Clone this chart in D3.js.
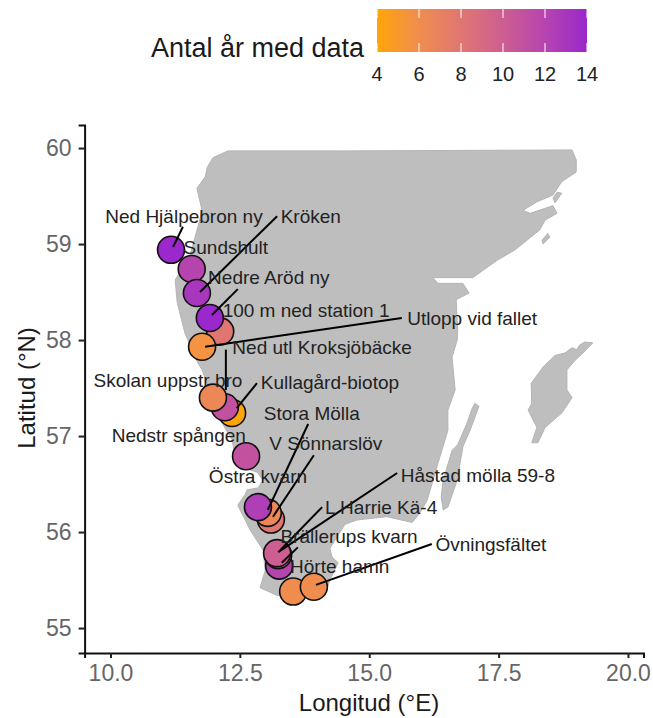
<!DOCTYPE html>
<html>
<head>
<meta charset="utf-8">
<script src="https://cdn.jsdelivr.net/npm/d3@7"></script>
<style>
body { margin: 0; background: #fff; }
svg { display: block; font-family: "Liberation Sans", Arial, sans-serif; }
</style>
</head>
<body>
<div class="svgContainer"></div>
<script>
// Statics, bottom to top paint order
var SITES = ["Ned Hjälpebron ny", "Sundshult", "Kröken", "100 m ned station 1", "Nedre Aröd ny", "Utlopp vid fallet", "Kullagård-biotop", "Ned utl Kroksjöbäcke", "Skolan uppstr bro", "Nedstr spången", "V Sönnarslöv", "Stora Mölla", "Östra kvarn", "Brällerups kvarn", "L Harrie Kä-4", "Håstad mölla 59-8", "Hörte hamn", "Övningsfältet"];
var LON = [11.17, 11.57, 11.67, 12.12, 11.92, 11.77, 12.35, 12.21, 11.98, 12.62, 13.10, 13.04, 12.85, 13.26, 13.24, 13.22, 13.53, 13.93];
var LAT = [58.94, 58.74, 58.49, 58.09, 58.23, 57.93, 57.24, 57.30, 57.40, 56.79, 56.13, 56.20, 56.26, 55.65, 55.76, 55.78, 55.38, 55.43];
var YEARS = [14, 12, 13, 8, 14, 5.5, 4, 11, 6.5, 11, 8, 6.5, 12.5, 12, 10, 10, 6, 6];

var LABEL_LON = [11.42, 12.23, 13.87, 13.78, 13.06, 16.99, 14.24, 14.09, 11.11, 11.32, 14.16, 13.89, 12.85, 14.61, 15.23, 17.10, 14.43, 17.35];
var LABEL_LAT = [59.29, 58.97, 59.29, 58.31, 58.65, 58.23, 57.56, 57.92, 57.58, 57.01, 56.92, 57.24, 56.58, 55.95, 56.26, 56.59, 55.64, 55.875];

// Repel lines, null where a label has none
var LINE_LON0 = [11.40, null, 13.22, null, 12.46, 15.63, 12.83, 12.23, null, null, 13.93, 13.82, null, 13.62, 14.09, 15.54, null, 16.21];
var LINE_LAT0 = [59.18, null, 59.29, null, 58.53, 58.23, 57.55, 57.90, null, null, 56.80, 57.125, null, 55.84, 56.26, 56.615, null, 55.875];
var LINE_LON1 = [11.21, null, 11.73, null, 11.96, 11.83, 12.44, 12.23, null, null, 13.14, 13.04, null, 13.31, 13.28, 13.24, null, 13.97];
var LINE_LAT1 = [58.97, null, 58.50, null, 58.26, 57.93, 57.29, 57.48, null, null, 56.16, 56.23, null, 55.68, 55.81, 55.79, null, 55.45];

var MAINLAND = [[12.27,59.97],[14.43,59.97],[18.92,59.98],[19.00,59.875],[19.00,59.75],[18.72,59.65],[18.55,59.51],[18.24,59.44],[17.97,59.35],[18.11,59.32],[18.55,59.40],[18.63,59.32],[18.40,59.25],[18.30,59.15],[17.82,58.94],[17.47,58.83],[17.00,58.65],[16.56,58.65],[16.23,58.65],[16.33,58.59],[16.81,58.59],[16.93,58.49],[16.68,58.42],[16.71,58.10],[16.70,58.00],[16.60,57.82],[16.66,57.48],[16.52,57.27],[16.52,57.06],[16.33,56.72],[16.12,56.33],[15.98,56.20],[15.83,56.10],[15.34,56.16],[14.76,56.125],[14.53,56.08],[14.24,55.83],[14.28,55.74],[14.40,55.68],[14.24,55.50],[14.18,55.40],[13.80,55.32],[13.22,55.34],[12.89,55.42],[12.99,55.60],[12.95,55.81],[12.70,56.02],[12.46,56.28],[12.60,56.39],[12.64,56.44],[12.85,56.46],[12.95,56.54],[12.83,56.625],[12.44,56.69],[12.35,56.96],[12.12,57.17],[11.77,57.69],[11.69,57.76],[11.44,58.07],[11.29,58.39],[11.25,58.625],[11.54,58.89],[11.69,59.18],[11.77,59.35],[11.67,59.58],[11.83,59.70],[11.87,59.80],[11.98,59.90]];
var SANDHAMN = [[18.63,59.54],[18.72,59.53],[18.59,59.43],[18.55,59.48]];
var UTO = [[18.45,59.11],[18.49,59.07],[18.36,59.00],[18.34,59.04]];
var OLAND = [[17.04,57.34],[17.12,57.31],[16.95,57.06],[16.81,56.89],[16.70,56.54],[16.52,56.26],[16.43,56.23],[16.39,56.365],[16.43,56.54],[16.60,56.85],[16.71,56.91],[16.89,57.135],[16.99,57.29]];
var GOTLAND = [[19.32,57.97],[19.17,57.98],[19.07,57.95],[19.01,57.90],[18.92,57.92],[18.78,57.865],[18.59,57.84],[18.36,57.72],[18.13,57.55],[18.14,57.34],[18.07,57.27],[18.24,57.09],[18.14,56.93],[18.26,56.93],[18.40,57.09],[18.72,57.24],[18.92,57.40],[18.82,57.48],[18.82,57.69],[18.98,57.79],[19.13,57.865]];

var LON_TICKS = [10, 12.5, 15, 17.5, 20];
var LAT_TICKS = [55, 56, 57, 58, 59, 60];
var LEGEND_TICKS = [4, 6, 8, 10, 12, 14];
// End statics

var width = 653, height = 718;

var svg = d3.select(".svgContainer").append("svg")
    .attr("width", width)
    .attr("height", height);

// Define the scales
var x = d3.scaleLinear().domain([9.5, 20.3]).range([84.6, 643.5]);
var y = d3.scaleLinear().domain([54.74, 60.24]).range([653, 125]);
var color = d3.scaleLinear().domain([4, 14]).range(["#FFA50A", "#9A28CC"]).interpolate(d3.interpolateLab);

// Land
var line = d3.line().x(function(d) { return x(d[0]); }).y(function(d) { return y(d[1]); });
svg.append("g").selectAll("path")
    .data([MAINLAND, SANDHAMN, UTO, OLAND, GOTLAND])
    .enter().append("path")
    .attr("d", function(d) { return line(d) + "Z"; })
    .attr("fill", "#BEBEBE")
    .attr("stroke", "#B4B4B4")
    .attr("stroke-width", 1)
    .attr("stroke-linejoin", "round");

// Axes
var xAxis = svg.append("g")
    .attr("transform", "translate(0," + y.range()[0] + ")")
    .call(d3.axisBottom(x).tickValues(LON_TICKS).tickFormat(d3.format(".1f")).tickSize(5).tickPadding(7));
var yAxis = svg.append("g")
    .attr("transform", "translate(" + x.range()[0] + ",0)")
    .call(d3.axisLeft(y).tickValues(LAT_TICKS).tickFormat(d3.format("d")).tickSize(6).tickPadding(7));

[xAxis, yAxis].forEach(function(a) {
    a.selectAll(".domain").attr("stroke", "#111").attr("stroke-width", 2);
    a.selectAll(".tick line").attr("stroke", "#222").attr("stroke-width", 2);
    a.selectAll(".tick text").attr("fill", "#666").attr("font-size", 23).attr("font-family", "Liberation Sans");
});

svg.append("text")
    .attr("x", 369).attr("y", 711)
    .attr("text-anchor", "middle")
    .attr("font-size", 24).attr("fill", "#1a1a1a")
    .text("Longitud (°E)");
svg.append("text")
    .attr("transform", "translate(35,388) rotate(-90)")
    .attr("text-anchor", "middle")
    .attr("font-size", 24).attr("fill", "#1a1a1a")
    .text("Latitud (°N)");

// Points
svg.append("g").selectAll("circle")
    .data(SITES)
    .enter().append("circle")
    .attr("cx", function(d, i) { return x(LON[i]); })
    .attr("cy", function(d, i) { return y(LAT[i]); })
    .attr("r", 13.5)
    .attr("fill", function(d, i) { return color(YEARS[i]); })
    .attr("stroke", "#111")
    .attr("stroke-width", 1.6);

// Repel lines go over the points
svg.append("g").selectAll("line")
    .data(d3.range(SITES.length).filter(function(i) { return LINE_LON0[i] !== null; }))
    .enter().append("line")
    .attr("x1", function(i) { return x(LINE_LON0[i]); })
    .attr("y1", function(i) { return y(LINE_LAT0[i]); })
    .attr("x2", function(i) { return x(LINE_LON1[i]); })
    .attr("y2", function(i) { return y(LINE_LAT1[i]); })
    .attr("stroke", "#000")
    .attr("stroke-width", 2);

svg.append("g").selectAll("text")
    .data(SITES)
    .enter().append("text")
    .attr("x", function(d, i) { return x(LABEL_LON[i]); })
    .attr("y", function(d, i) { return y(LABEL_LAT[i]); })
    .attr("dy", "0.35em")
    .attr("text-anchor", "middle")
    .attr("font-size", 19)
    .attr("fill", "#222")
    .text(function(d) { return d; });

// Legend
var legendX = d3.scaleLinear().domain([4, 14]).range([377, 587]);
var defs = svg.append("defs");
var grad = defs.append("linearGradient").attr("id", "yearsGrad");
grad.selectAll("stop")
    .data(LEGEND_TICKS)
    .enter().append("stop")
    .attr("offset", function(d) { return (d - 4) / 10; })
    .attr("stop-color", function(d) { return color(d); });

var legend = svg.append("g");
legend.append("rect")
    .attr("x", legendX(4)).attr("y", 9)
    .attr("width", legendX(14) - legendX(4)).attr("height", 43)
    .attr("fill", "url(#yearsGrad)");

legend.selectAll(".tk")
    .data(LEGEND_TICKS)
    .enter().append("path")
    .attr("class", "tk")
    .attr("d", function(d) { var p = legendX(d); return "M" + p + ",9V18M" + p + ",43V52"; })
    .attr("stroke", "#fff")
    .attr("stroke-width", 1);

legend.selectAll("text.lab")
    .data(LEGEND_TICKS)
    .enter().append("text")
    .attr("class", "lab")
    .attr("x", function(d) { return legendX(d); })
    .attr("y", 81)
    .attr("text-anchor", "middle")
    .attr("font-size", 20)
    .attr("fill", "#222")
    .text(function(d) { return d; });

legend.append("text")
    .attr("x", 151).attr("y", 57)
    .attr("font-size", 27)
    .attr("fill", "#1a1a1a")
    .text("Antal år med data");
</script>
</body>
</html>
